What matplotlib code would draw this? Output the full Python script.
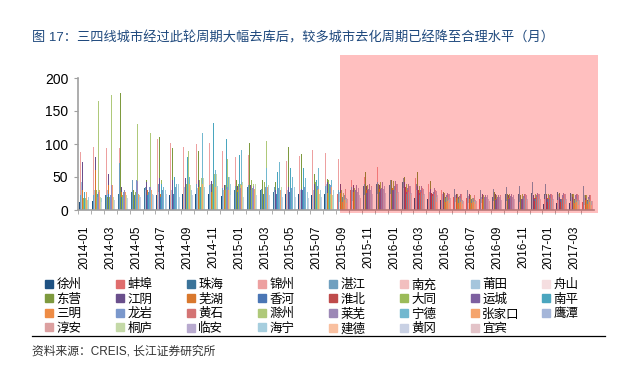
import numpy as np
import matplotlib
matplotlib.use('Agg')
import matplotlib.pyplot as plt
from matplotlib.patches import Patch, Rectangle
from matplotlib.lines import Line2D

plt.rcParams['font.family'] = ['Liberation Sans', 'Noto Sans CJK SC', 'DejaVu Sans']

# 月份 2014-01 ~ 2017-04
months = ['%d-%02d' % (2014 + (m - 1) // 12, (m - 1) % 12 + 1) for m in range(1, 41)]

cities = ['徐州', '蚌埠', '珠海', '锦州', '湛江', '南充', '莆田', '舟山',
          '东营', '江阴', '芜湖', '香河', '淮北', '大同', '运城', '南平',
          '三明', '龙岩', '黄石', '滁州', '莱芜', '宁德', '张家口', '鹰潭',
          '淳安', '桐庐', '临安', '海宁', '建德', '黄冈', '宜宾']

colors = ['#1F5283', '#E06D6D', '#3A7399', '#EDA0A0', '#6F9FBF', '#F2BFBF', '#A5C5DC', '#F5DEE0',
          '#7E9A3F', '#6A4F8C', '#D9782D', '#4A76B5', '#BF4B4B', '#9BBB59', '#7E60A0', '#4AA6BF',
          '#EE8C45', '#7B98CC', '#D47474', '#AFC97A', '#9C88B6', '#72B8CF', '#F5A46C', '#A5B6D9',
          '#DCA0A0', '#C4D9A7', '#B8AACF', '#A6CEDE', '#F9C0A0', '#C9D1E4', '#E3C3C8']

# 去化周期（月），0 表示无数据
xuzhou = [12, 13, 13, 13, 15, 21, 22, 23, 25, 25, 25, 21, 27, 27, 25, 24, 24, 25, 23, 24,
          22, 18, 20, 22, 21, 20, 18, 16, 15, 14, 13, 12, 12, 10, 11, 10, 9, 10, 10, 9]
bengbu = [0] * 20 + \
         [25, 30, 35, 40, 38, 36, 30, 28, 22, 20, 18, 16, 15, 14, 13, 12, 12, 14, 13, 12]
zhuhai = [20, 22, 22, 25, 28, 33, 31, 30, 33, 36, 35, 33, 30, 35, 30, 28, 30, 33, 31, 30,
          30, 32, 36, 40, 38, 42, 35, 30, 25, 24, 22, 22, 20, 25, 24, 26, 25, 27, 26, 24]
jinzhou = [88, 95, 94, 94, 93, 98, 108, 101, 95, 100, 101, 89, 80, 83, 0, 82, 74, 82, 91, 87,
           77, 45, 50, 65, 60, 61, 48, 40, 30, 25, 24, 22, 20, 18, 20, 18, 16, 15, 14, 13]
zhanjiang = [22, 23, 23, 71, 45, 35, 40, 42, 36, 40, 38, 33, 36, 38, 32, 35, 30, 37, 38, 36,
             30, 35, 40, 42, 45, 48, 40, 38, 37, 32, 30, 31, 32, 35, 36, 42, 40, 48, 47, 36]
nanchong = [0] * 20 + \
           [18, 20, 22, 24, 25, 22, 20, 18, 16, 15, 14, 14, 13, 13, 12, 12, 12, 11, 11, 10]
putian = [43, 30, 30, 40, 44, 30, 28, 30, 35, 34, 40, 30, 33, 30, 30, 28, 30, 30, 30, 40,
          28, 30, 32, 34, 35, 33, 30, 27, 24, 22, 21, 20, 20, 22, 22, 24, 23, 25, 24, 22]
zhoushan = [0] * 20 + \
           [12, 14, 15, 16, 16, 15, 14, 13, 12, 12, 11, 11, 10, 10, 10, 10, 9, 9, 9, 8]
dongying = [135, 25, 20, 177, 30, 45, 110, 94, 40, 89, 91, 40, 45, 101, 45, 42, 95, 85, 55, 47,
            35, 58, 57, 40, 45, 50, 58, 44, 28, 25, 24, 26, 28, 24, 22, 22, 24, 26, 24, 22]
jiangyin = [73, 81, 55, 35, 32, 43, 48, 46, 48, 45, 44, 38, 37, 38, 35, 30, 35, 32, 40, 43,
            40, 38, 36, 38, 40, 42, 36, 32, 26, 24, 25, 24, 25, 22, 20, 22, 22, 20, 20, 18]
wuhu = [30, 60, 38, 28, 12, 30, 25, 24, 30, 35, 28, 30, 30, 28, 25, 22, 28, 25, 24, 26,
        26, 28, 30, 32, 33, 30, 28, 25, 20, 18, 17, 16, 16, 18, 17, 18, 18, 17, 16, 15]
xianghe = [25, 20, 24, 20, 22, 23, 20, 25, 30, 28, 22, 26, 28, 30, 25, 24, 28, 30, 28, 30,
           22, 24, 26, 28, 30, 28, 25, 22, 18, 17, 16, 15, 15, 16, 16, 17, 16, 16, 15, 14]
huaibei = [0] * 20 + \
          [30, 32, 34, 36, 38, 35, 30, 26, 22, 20, 18, 17, 16, 15, 14, 13, 12, 12, 11, 10]
datong = [18, 30, 20, 22, 28, 20, 45, 30, 40, 45, 40, 38, 40, 45, 42, 45, 44, 40, 42, 46,
          30, 34, 38, 42, 44, 40, 36, 32, 26, 24, 23, 22, 22, 24, 24, 25, 24, 25, 24, 22]
yuncheng = [0] * 20 + \
           [26, 28, 30, 32, 30, 28, 26, 24, 20, 19, 18, 17, 17, 18, 17, 18, 17, 17, 16, 15]
nanping = [27, 25, 22, 25, 20, 28, 40, 50, 80, 35, 132, 108, 83, 80, 75, 57, 64, 64, 45, 40,
           20, 22, 24, 26, 27, 25, 23, 21, 18, 17, 16, 16, 15, 16, 16, 17, 16, 16, 15, 14]
sanming = [0] * 20 + \
          [12, 14, 15, 17, 18, 16, 15, 14, 12, 11, 10, 10, 10, 10, 10, 11, 10, 10, 10, 9]
longyan = [22, 20, 23, 28, 45, 35, 30, 35, 33, 35, 33, 32, 35, 33, 35, 34, 33, 35, 36, 38,
           28, 30, 32, 34, 36, 34, 30, 27, 22, 21, 20, 20, 19, 21, 21, 22, 22, 23, 22, 20]
huangshi = [0] * 20 + \
           [24, 26, 28, 30, 32, 30, 27, 25, 20, 19, 18, 18, 17, 18, 18, 19, 18, 18, 17, 16]
chuzhou = [18, 165, 175, 22, 130, 117, 20, 30, 89, 48, 55, 78, 40, 40, 104, 40, 30, 25, 30, 25,
           26, 24, 28, 30, 32, 30, 27, 24, 20, 19, 18, 17, 17, 18, 18, 19, 18, 18, 17, 16]
laiwu = [43, 28, 38, 30, 44, 35, 35, 40, 32, 36, 33, 35, 34, 36, 35, 33, 36, 38, 42, 44,
         35, 38, 40, 42, 44, 40, 36, 33, 26, 25, 24, 23, 23, 25, 25, 26, 25, 26, 25, 23]
ningde = [22, 25, 20, 30, 25, 30, 35, 40, 50, 116, 60, 50, 91, 68, 63, 72, 50, 48, 63, 46,
          22, 24, 26, 28, 30, 28, 26, 24, 19, 18, 18, 17, 17, 18, 18, 19, 18, 18, 17, 16]
zhangjiakou = [28, 30, 38, 28, 24, 30, 28, 35, 40, 40, 35, 30, 38, 32, 35, 30, 28, 30, 32, 35,
               15, 17, 18, 20, 21, 19, 18, 16, 13, 12, 12, 12, 12, 13, 13, 13, 13, 13, 12, 12]
yingtan = [0] * 20 + \
          [26, 28, 30, 32, 34, 32, 29, 27, 22, 21, 20, 20, 19, 20, 20, 21, 21, 22, 21, 20]
chunan = [0] * 20 + \
         [32, 34, 36, 38, 40, 37, 33, 30, 25, 24, 23, 22, 22, 24, 24, 25, 24, 25, 24, 23]
tonglu = [15, 20, 20, 22, 22, 20, 30, 35, 38, 48, 55, 50, 42, 40, 38, 35, 30, 28, 25, 22,
          16, 18, 20, 22, 24, 22, 20, 18, 15, 14, 14, 13, 13, 14, 14, 15, 14, 14, 13, 13]
linan = [0] * 20 + \
        [30, 33, 35, 37, 39, 36, 32, 29, 24, 23, 22, 22, 21, 23, 23, 24, 23, 24, 23, 22]
haining = [20, 18, 22, 20, 20, 25, 30, 40, 30, 35, 36, 40, 38, 40, 35, 30, 35, 28, 30, 30,
           18, 20, 22, 24, 26, 24, 22, 20, 16, 15, 15, 14, 14, 15, 15, 16, 15, 15, 14, 14]
jiande = [0] * 20 + \
         [10, 12, 13, 14, 15, 14, 13, 12, 10, 9, 9, 8, 8, 9, 9, 10, 9, 9, 8, 8]
huanggang = [10, 12, 15, 18, 20, 22, 25, 20, 22, 25, 24, 22, 20, 22, 22, 20, 20, 18, 20, 18,
             20, 22, 24, 26, 28, 26, 24, 22, 18, 17, 16, 16, 15, 16, 16, 17, 16, 16, 15, 15]
yibin = [0] * 20 + \
        [16, 18, 20, 22, 24, 22, 20, 18, 15, 14, 14, 13, 13, 14, 14, 15, 14, 14, 13, 13]

series = [xuzhou, bengbu, zhuhai, jinzhou, zhanjiang, nanchong, putian, zhoushan,
          dongying, jiangyin, wuhu, xianghe, huaibei, datong, yuncheng, nanping,
          sanming, longyan, huangshi, chuzhou, laiwu, ningde, zhangjiakou, yingtan,
          chunan, tonglu, linan, haining, jiande, huanggang, yibin]

fig = plt.figure(figsize=(6.3, 3.66), dpi=100)
ax = fig.add_axes([78 / 630, 1 - 210 / 366, (594 - 78) / 630, 132 / 366])

x = np.arange(len(months))
n = len(cities)
handles = []
for k, (name, vals, c) in enumerate(zip(cities, series, colors)):
    off = -0.42 + k * 0.76 / (n - 1)
    ax.bar(x + off, vals, width=0.065, color=c, align='edge', linewidth=0, zorder=2)
    handles.append(Patch(color=c, label=name))

# 阴影区：2015-09 之后
shade = Rectangle((19.8, -4), 20, 239, color='red', alpha=0.25, linewidth=0,
                  zorder=5, clip_on=False)
ax.add_patch(shade)

ax.set_xlim(-0.5, 39.5)
ax.set_ylim(0, 200)
ax.set_yticks([0, 50, 100, 150, 200])
ax.set_xticks(x - 0.5, minor=True)
ax.set_xticks(x[::2])
ax.set_xticklabels(months[::2], rotation=90)
ax.tick_params(axis='x', which='major', length=0, labelsize=8.5, pad=11)
ax.tick_params(axis='x', which='minor', length=3, color='#A0A0A0')
ax.tick_params(axis='y', length=3, color='#A0A0A0', labelsize=10, pad=4)
for s in ['top', 'right']:
    ax.spines[s].set_visible(False)
for s in ['left', 'bottom']:
    ax.spines[s].set_color('#A0A0A0')
    ax.spines[s].set_linewidth(1.2)

# 图例：8 列，按行排列，列宽固定
for j in range(8):
    idx = [r * 8 + j for r in range(4) if r * 8 + j < n]
    fig.legend([handles[i] for i in idx], [cities[i] for i in idx],
               loc='upper left', bbox_to_anchor=((45 + 71 * j) / 630, 1 - 279 / 366),
               frameon=False, fontsize=9, handlelength=0.6, handleheight=0.6,
               handletextpad=0.3, labelspacing=0.2, borderpad=0, borderaxespad=0)

fig.text(32 / 630, 1 - 38 / 366, '图 17：三四线城市经过此轮周期大幅去库后，较多城市去化周期已经降至合理水平（月）',
         fontsize=9.5, color='#1F497D', va='center', ha='left')
fig.add_artist(Line2D([32 / 630, 605 / 630], [1 - 336 / 366] * 2, color='black', lw=0.9))
fig.text(32 / 630, 1 - 351 / 366, '资料来源：CREIS, 长江证券研究所', fontsize=8.5,
         color='#333333', va='center', ha='left')

fig.savefig('out.png', dpi=100)
